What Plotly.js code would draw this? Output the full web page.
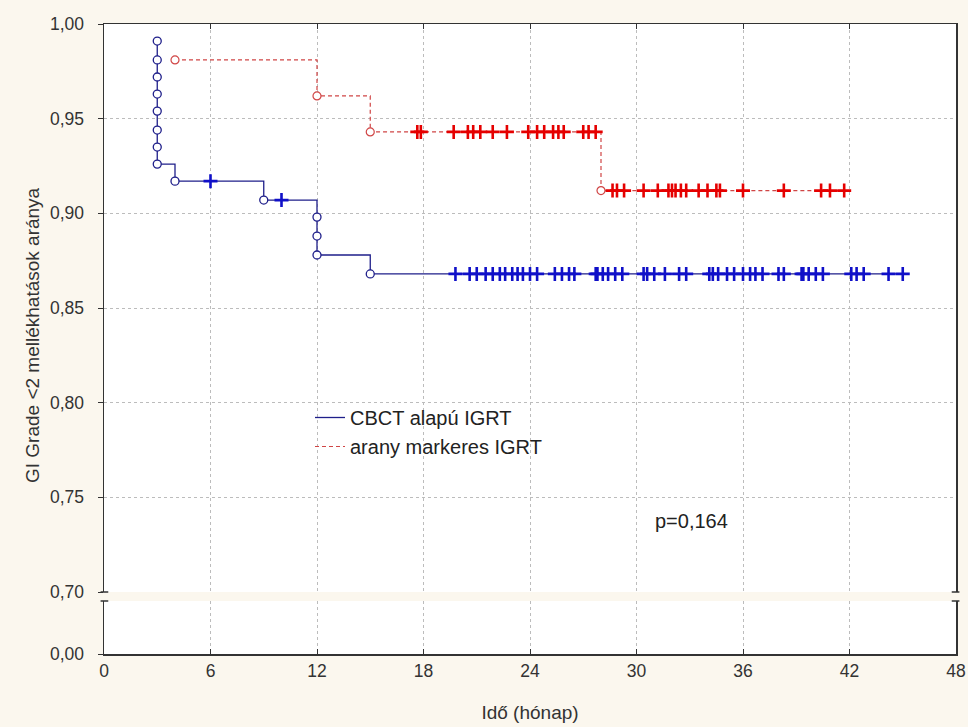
<!DOCTYPE html>
<html>
<head>
<meta charset="utf-8">
<script src="https://cdn.plot.ly/plotly-3.0.1.min.js"></script>
<style>html,body{margin:0;padding:0;background:#fbf7ee;}#chart{width:968px;height:727px;}</style>
</head>
<body>
<div id="chart"></div>
<script>
// ---- data ----
const seriesNames = ["CBCT alapú IGRT", "arany markeres IGRT"];

const blueEventTimes = [3, 3, 3, 3, 3, 3, 3, 3, 4, 9, 12, 12, 12, 15];
const blueSurvival = [0.991, 0.981, 0.972, 0.963, 0.954, 0.944, 0.935, 0.926, 0.917, 0.907, 0.898, 0.888, 0.878, 0.868];
const blueCensored = [6, 10, 19.8, 20.6, 21.0, 21.5, 21.9, 22.3, 22.6, 23.0, 23.3, 23.6, 24.0, 24.4,
  25.4, 25.8, 26.2, 26.5, 27.7, 27.8, 28.1, 28.4, 28.8, 29.2, 30.4, 30.6, 31.0, 31.6, 32.4, 32.8,
  34.1, 34.3, 34.6, 35.1, 35.5, 36.0, 36.4, 36.7, 37.1, 38.0, 38.3, 39.3, 39.4, 39.7, 40.1, 40.5,
  42.1, 42.4, 42.8, 44.2, 45.0];

const redEventTimes = [4, 12, 15, 28];
const redSurvival = [0.981, 0.962, 0.943, 0.912];
const redCensored = [17.65, 17.85, 19.7, 20.5, 20.8, 21.2, 21.9, 22.7, 23.9, 24.4, 24.8, 25.3, 25.6, 25.9,
  27.0, 27.3, 27.7, 28.65, 28.9, 29.3, 30.4, 31.2, 31.8, 32.0, 32.2, 32.5, 32.8, 33.5, 34.0, 34.5,
  34.7, 36.0, 38.3, 40.4, 40.9, 41.7];

const xTicks = [0, 6, 12, 18, 24, 30, 36, 42, 48];
const yTicksTop = [0.70, 0.75, 0.80, 0.85, 0.90, 0.95, 1.00];
const yTicksBottom = [0.00];
const pValueText = "p=0,164";
const xTitle = "Idő (hónap)";
const yTitle = "GI Grade <2 mellékhatások aránya";

// ---- helpers ----
function levelAt(times, surv, t) {
  let v = surv[0];
  for (let i = 0; i < times.length; i++) if (times[i] <= t) v = surv[i];
  return v;
}
function stepLine(times, surv, censored) {
  const last = Math.max(...censored);
  return { x: times.concat([last]), y: surv.concat([surv[surv.length - 1]]) };
}

const blueC = "#1f1f8a", blueCens = "#1010c8";
const redC = "#d04545", redCens = "#e50000";
const FAM = "Liberation Sans, Arial, sans-serif";

const bStep = stepLine(blueEventTimes, blueSurvival, blueCensored);
const rStep = stepLine(redEventTimes, redSurvival, redCensored);

const traces = [
  { x: bStep.x, y: bStep.y, mode: "lines", line: { shape: "hv", color: blueC, width: 1.3 }, showlegend: false, hoverinfo: "skip" },
  { x: rStep.x, y: rStep.y, mode: "lines", line: { shape: "hv", color: redC, width: 1.2, dash: "4px,3px" }, showlegend: false, hoverinfo: "skip" },
  { x: blueCensored, y: blueCensored.map(t => levelAt(blueEventTimes, blueSurvival, t)), mode: "markers",
    marker: { symbol: "cross-thin", size: 10, line: { color: blueCens, width: 2.6 } }, showlegend: false },
  { x: redCensored, y: redCensored.map(t => levelAt(redEventTimes, redSurvival, t)), mode: "markers",
    marker: { symbol: "cross-thin", size: 10, line: { color: redCens, width: 2.6 } }, showlegend: false },
  { x: blueEventTimes, y: blueSurvival, mode: "markers",
    marker: { symbol: "circle", size: 8, color: "#ffffff", line: { color: blueC, width: 1.3 } }, showlegend: false },
  { x: redEventTimes, y: redSurvival, mode: "markers",
    marker: { symbol: "circle", size: 8, color: "#ffffff", line: { color: redC, width: 1.2 } }, showlegend: false },
  // legend entries
  { x: [null], y: [null], mode: "lines", name: seriesNames[0], legendgroup: "a", line: { color: blueC, width: 1.3 } },
  { x: [null], y: [null], mode: "lines", name: seriesNames[1], legendgroup: "b", line: { color: redC, width: 1.2, dash: "4px,3px" } }
];

const W = 968, H = 727, L = 104, R = 12, T = 24, B = 73;
const plotH = H - T - B, plotW = W - L - R;
const topBottomPx = 592, botTopPx = 601, bottomPx = H - B;
const topDomain = [(bottomPx - topBottomPx) / plotH, 1];
const botDomain = [0, (bottomPx - botTopPx) / plotH];

const tickFont = { family: FAM, size: 17.5, color: "#333333" };
const gridStyle = { showgrid: true, gridcolor: "#bcbcbc", gridwidth: 1, griddash: "dot" };

const shapes = [];
[topDomain[0], botDomain[1]].forEach(yy => {
  shapes.push({ type: "line", xref: "paper", yref: "paper", x0: -0.004, x1: 0.005, y0: yy, y1: yy, line: { color: "#333", width: 1.5 } });
  shapes.push({ type: "line", xref: "paper", yref: "paper", x0: 0.995, x1: 1.004, y0: yy, y1: yy, line: { color: "#333", width: 1.5 } });
});

const layout = {
  width: W, height: H,
  margin: { l: L, r: R, t: T, b: B },
  paper_bgcolor: "#fbf7ee",
  plot_bgcolor: "#ffffff",
  font: tickFont,
  separators: ",.",
  xaxis: Object.assign({
    domain: [0, 1], anchor: "y2", range: [0, 48], tickvals: xTicks, ticktext: xTicks.map(String),
    showline: true, linecolor: "#333", linewidth: 1.5, ticks: "inside", ticklen: 5, tickcolor: "#333",
    tickfont: tickFont, zeroline: false,
    title: { text: xTitle, font: { family: FAM, size: 19, color: "#333" }, standoff: 26 }
  }, gridStyle),
  xaxis2: Object.assign({
    domain: [0, 1], anchor: "y", range: [0, 48], tickvals: xTicks, matches: "x", side: "top",
    showline: true, linecolor: "#333", linewidth: 1.5, ticks: "inside", ticklen: 5, tickcolor: "#333",
    showticklabels: false, zeroline: false
  }, gridStyle),
  yaxis: Object.assign({
    domain: topDomain, anchor: "x2", range: [0.70, 1.00], tickvals: yTicksTop, tickformat: ".2f",
    showline: true, mirror: true, linecolor: "#333", linewidth: 1.5, ticks: "outside", ticklen: 5, tickcolor: "#333",
    tickfont: tickFont, zeroline: false, ticklabelstandoff: 10
  }, gridStyle),
  yaxis2: {
    domain: botDomain, anchor: "x", range: [0, 0.05], tickvals: yTicksBottom, tickformat: ".2f",
    showline: true, mirror: true, linecolor: "#333", linewidth: 1.5, ticks: "outside", ticklen: 5, tickcolor: "#333",
    tickfont: tickFont, zeroline: false, showgrid: false, ticklabelstandoff: 10
  },
  legend: {
    x: (310 - L) / plotW, y: (bottomPx - 398) / plotH, xanchor: "left", yanchor: "top",
    bgcolor: "rgba(0,0,0,0)", borderwidth: 0, traceorder: "grouped", tracegroupgap: 0,
    font: { family: FAM, size: 20, color: "#222" }
  },
  shapes: shapes,
  annotations: [
    { text: pValueText, xref: "paper", yref: "paper", x: (691 - L) / plotW, y: (bottomPx - 521) / plotH,
      xanchor: "center", yanchor: "middle",
      showarrow: false, font: { family: FAM, size: 20, color: "#222" } },
    { text: yTitle, xref: "paper", yref: "paper", x: (32 - L) / plotW, y: (bottomPx - 335) / plotH, textangle: -90,
      xanchor: "center", yanchor: "middle",
      showarrow: false, font: { family: FAM, size: 19, color: "#333" } }
  ]
};

traces.forEach(tr => { tr.xaxis = "x2"; tr.yaxis = "y"; });
traces.push({ x: [null], y: [null], xaxis: "x", yaxis: "y2", showlegend: false, mode: "markers" });

Plotly.newPlot("chart", traces, layout, { displayModeBar: false, staticPlot: true });
</script>
</body>
</html>
